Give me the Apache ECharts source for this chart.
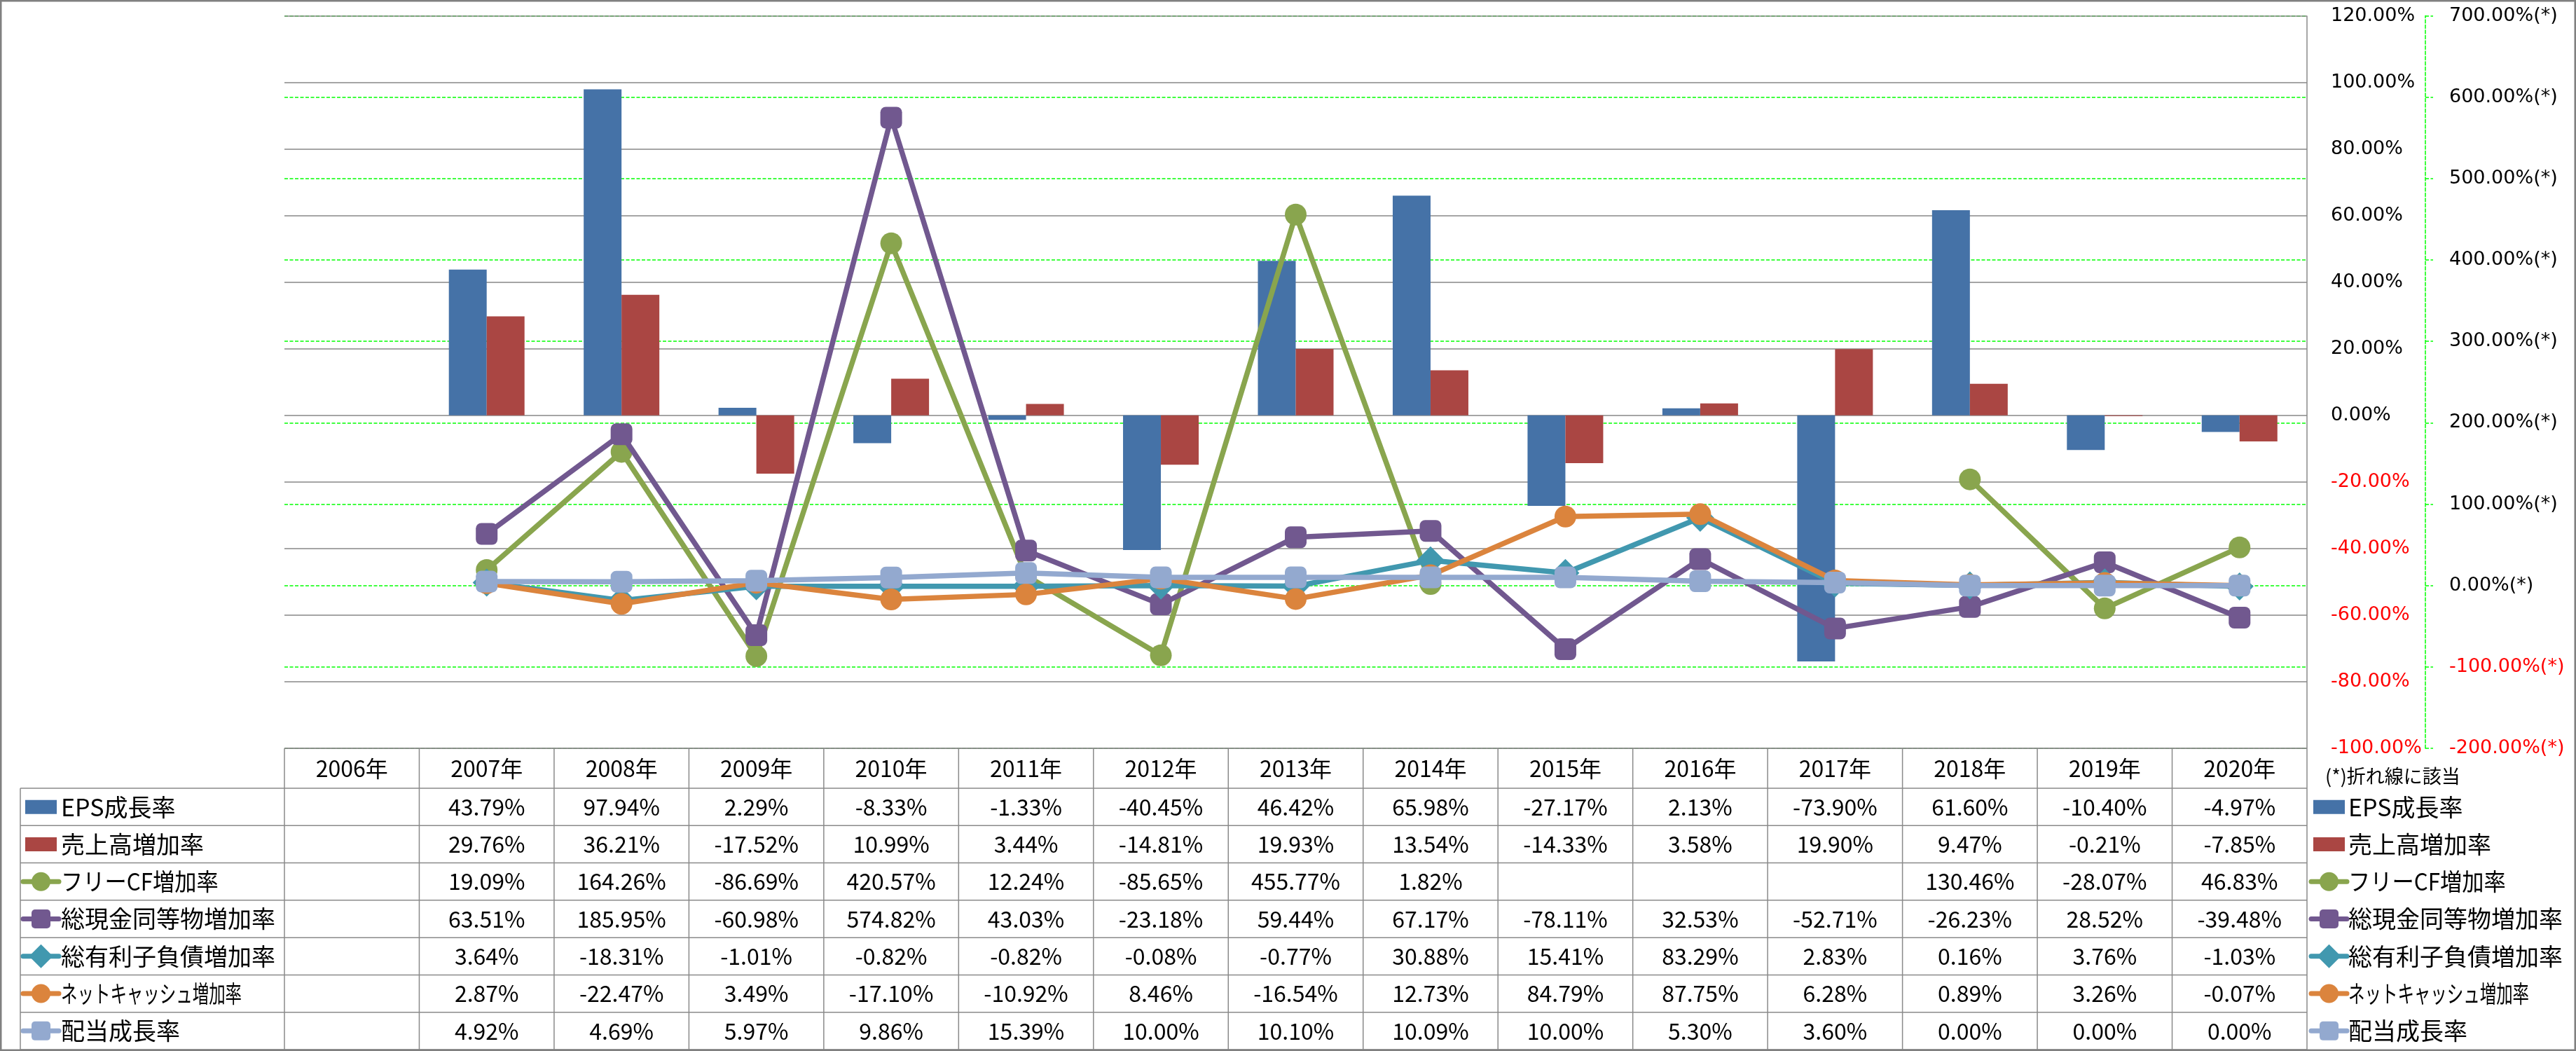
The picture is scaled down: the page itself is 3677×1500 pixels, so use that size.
<!DOCTYPE html>
<html><head><meta charset="utf-8">
<script src="https://cdn.jsdelivr.net/npm/echarts@6/dist/echarts.min.js"></script>
<style>html,body{margin:0;padding:0;background:#fff}#c{width:3677px;height:1500px}</style>
</head><body><div id="c"></div>
<script>
const years = ['2006年','2007年','2008年','2009年','2010年','2011年','2012年','2013年','2014年','2015年','2016年','2017年','2018年','2019年','2020年'];
const epsGrowth   = [null, 43.79, 97.94, 2.29, -8.33, -1.33, -40.45, 46.42, 65.98, -27.17, 2.13, -73.90, 61.60, -10.40, -4.97];
const salesGrowth = [null, 29.76, 36.21, -17.52, 10.99, 3.44, -14.81, 19.93, 13.54, -14.33, 3.58, 19.90, 9.47, -0.21, -7.85];
const fcfGrowth   = [null, 19.09, 164.26, -86.69, 420.57, 12.24, -85.65, 455.77, 1.82, null, null, null, 130.46, -28.07, 46.83];
const cashGrowth  = [null, 63.51, 185.95, -60.98, 574.82, 43.03, -23.18, 59.44, 67.17, -78.11, 32.53, -52.71, -26.23, 28.52, -39.48];
const debtGrowth  = [null, 3.64, -18.31, -1.01, -0.82, -0.82, -0.08, -0.77, 30.88, 15.41, 83.29, 2.83, 0.16, 3.76, -1.03];
const netCashGrowth = [null, 2.87, -22.47, 3.49, -17.10, -10.92, 8.46, -16.54, 12.73, 84.79, 87.75, 6.28, 0.89, 3.26, -0.07];
const divGrowth   = [null, 4.92, 4.69, 5.97, 9.86, 15.39, 10.00, 10.10, 10.09, 10.00, 5.30, 3.60, 0.00, 0.00, 0.00];
const seriesNames = ['EPS成長率','売上高増加率','フリーCF増加率','総現金同等物増加率','総有利子負債増加率','ネットキャッシュ増加率','配当成長率'];
const noteText = '(*)折れ線に該当';

// ---- styles ----
const colors = ['#4572A7','#AA4643','#89A54E','#71588F','#4198AF','#DB843D','#93A9CF'];
const symbols = [null, null, 'circle', 'roundRect', 'diamond', 'circle', 'roundRect'];
const symSizes = [0, 0, 31, 31, 40, 31, 31];
const labelScaleX = [1, 1, 0.92, 1, 1, 0.69, 1]; // narrower kana in the original font
const allData = [epsGrowth, salesGrowth, fcfGrowth, cashGrowth, debtGrowth, netCashGrowth, divGrowth];

const W = 3677, H = 1500;
const gLeft = 406, gRight = 3293, gTop = 22.6, gBottom = 1068;
const tblHeaderBottom = 1125, rowH = (1498 - 1125) / 7;
const gridGray = '#878787', tableGray = '#8a8a8a', green = '#00FF00';
const cjk = '"Noto Sans CJK JP", "Noto Sans", sans-serif';

const chart = echarts.init(document.getElementById('c'), null, {renderer: 'canvas', width: W, height: H});

const series = [];
for (let i = 0; i < 2; i++) {
  series.push({
    name: seriesNames[i], type: 'bar', yAxisIndex: 0, xAxisIndex: 0,
    data: allData[i].map(v => v == null ? '-' : v),
    barWidth: 54, barGap: '0%', itemStyle: {color: colors[i]}, z: 2
  });
}
for (let i = 2; i < 7; i++) {
  series.push({
    name: seriesNames[i], type: 'line', yAxisIndex: 1, xAxisIndex: 0,
    data: allData[i].map(v => v == null ? '-' : v),
    connectNulls: false, symbol: symbols[i], symbolSize: symSizes[i],
    lineStyle: {color: colors[i], width: 7.5},
    itemStyle: {color: colors[i]}, z: 3 + i
  });
}

const labColor = v => (Number(v) < 0 ? '#FF0000' : '#000000');

chart.setOption({
  animation: false,
  backgroundColor: '#ffffff',
  grid: {left: gLeft, top: gTop, width: gRight - gLeft, height: gBottom - gTop, containLabel: false},
  xAxis: {
    type: 'category', data: years, boundaryGap: true,
    axisLine: {show: false}, axisTick: {show: false}, axisLabel: {show: false}, splitLine: {show: false}
  },
  yAxis: [
    {
      type: 'value', min: -100, max: 120, interval: 20, position: 'right', z: 1,
      axisLine: {show: false}, axisTick: {show: false},
      axisLabel: {margin: 34, fontFamily: 'DejaVu Sans', fontSize: 27, color: labColor,
        formatter: v => Number(v).toFixed(2) + '%'},
      splitLine: {show: true, lineStyle: {color: gridGray, width: 1.5}}
    },
    {
      type: 'value', min: -200, max: 700, interval: 100, position: 'right', offset: 169, z: 0,
      axisLine: {show: true, lineStyle: {color: green, width: 1.5, type: [5, 2.5]}},
      axisTick: {show: true, inside: false, length: 11, lineStyle: {color: green, width: 1.5, type: [5, 2.5]}},
      axisLabel: {margin: 34, fontFamily: 'DejaVu Sans', fontSize: 27, color: labColor,
        formatter: v => Number(v).toFixed(2) + '%(*)'},
      splitLine: {show: true, lineStyle: {color: green, width: 1.5, type: [5, 2.5]}}
    }
  ],
  series: series
});

// ---- data table & legends drawn as graphics, aligned to the category axis ----
const g = [];
const colW = (gRight - gLeft) / years.length;
const centers = years.map((y, i) => chart.convertToPixel({xAxisIndex: 0}, i));
function line(x1, y1, x2, y2, color, w, z) {
  g.push({type: 'line', silent: true, z: z || 50, shape: {x1, y1, x2, y2}, style: {stroke: color, lineWidth: w}});
}
function text(t, x, y, size, align, sx) {
  g.push({type: 'text', silent: true, z: 60, x: x, y: y, scaleX: sx || 1,
    style: {text: t, x: 0, y: 0, font: size + 'px ' + cjk, fill: '#000', align: align, verticalAlign: 'middle'}});
}
function legendSymbol(i, x0, x1, cy) {
  const c = colors[i];
  if (i < 2) {
    g.push({type: 'rect', silent: true, z: 60, shape: {x: x0 + 3, y: cy - 10, width: (x1 - x0) - 6, height: 20}, style: {fill: c}});
    return;
  }
  g.push({type: 'line', silent: true, z: 60, shape: {x1: x0, y1: cy, x2: x1, y2: cy}, style: {stroke: c, lineWidth: 7, lineCap: 'round'}});
  const cx = (x0 + x1) / 2;
  if (symbols[i] === 'circle') {
    g.push({type: 'circle', silent: true, z: 61, shape: {cx, cy, r: 13.5}, style: {fill: c}});
  } else if (symbols[i] === 'roundRect') {
    g.push({type: 'rect', silent: true, z: 61, shape: {x: cx - 13.5, y: cy - 13.5, width: 27, height: 27, r: 5}, style: {fill: c}});
  } else {
    g.push({type: 'polygon', silent: true, z: 61, shape: {points: [[cx, cy - 17], [cx + 17, cy], [cx, cy + 17], [cx - 17, cy]]}, style: {fill: c}});
  }
}

// header top line and column lines
line(gLeft, gBottom, gRight, gBottom, tableGray, 1.5);
for (let r = 0; r <= 7; r++) {
  const y = tblHeaderBottom + r * rowH;
  line(29, y, gRight, y, tableGray, 1.5);
}
line(29, tblHeaderBottom, 29, 1498, tableGray, 1.5);
for (let j = 0; j <= years.length; j++) {
  const x = gLeft + j * colW;
  line(x, j === years.length ? gTop : gBottom, x, 1498, tableGray, 1.5);
}
// header labels
years.forEach((y, i) => text(y, centers[i], (gBottom + tblHeaderBottom) / 2, 32, 'center'));
// rows
for (let r = 0; r < 7; r++) {
  const cy = tblHeaderBottom + (r + 0.5) * rowH;
  allData[r].forEach((v, i) => {
    if (v != null) text(v.toFixed(2) + '%', centers[i], cy, 32, 'center');
  });
  legendSymbol(r, 33, 84, cy);
  text(seriesNames[r], 87, cy, 34, 'left', labelScaleX[r]);
  legendSymbol(r, 3299, 3350, cy);
  text(seriesNames[r], 3352, cy, 34, 'left', labelScaleX[r]);
}
text(noteText, 3319, 1108, 27, 'left');
// outer border
g.push({type: 'rect', silent: true, z: 100, shape: {x: 1.25, y: 1.25, width: W - 2.5, height: H - 2.5}, style: {fill: 'none', stroke: '#808080', lineWidth: 2.5}});

chart.setOption({graphic: {elements: g}});
</script>
</body></html>
